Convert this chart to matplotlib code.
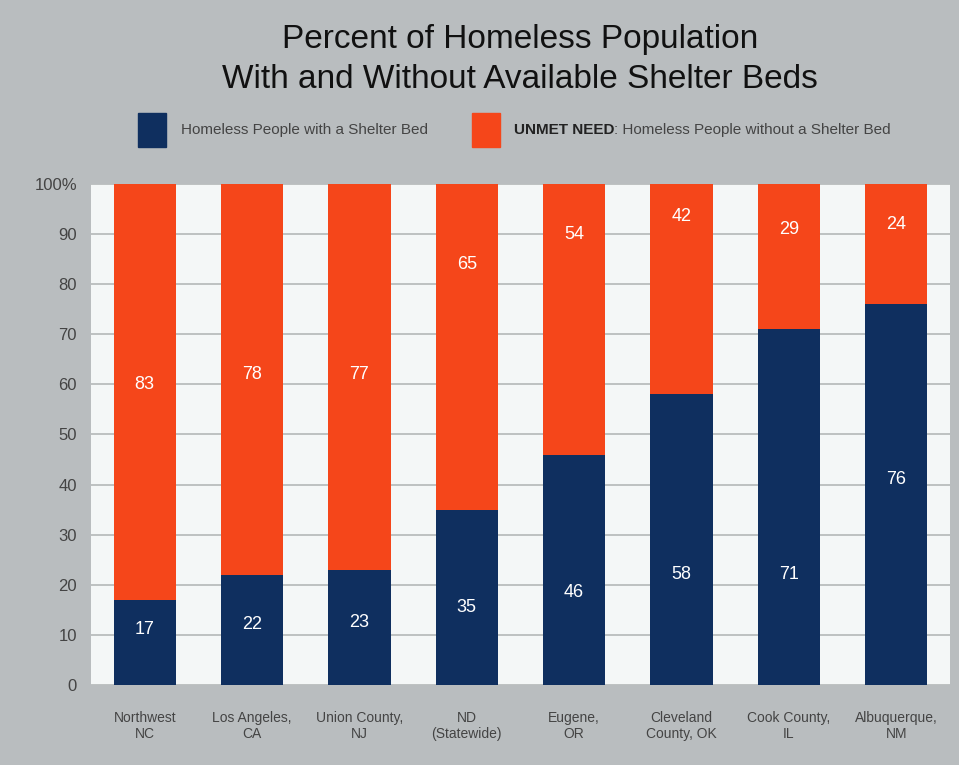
import matplotlib.pyplot as plt
from matplotlib.patches import Rectangle

plt.rcParams['font.family'] = ['Liberation Sans', 'DejaVu Sans']

# Dados
places = ["Northwest\nNC", "Los Angeles,\nCA", "Union County,\nNJ", "ND\n(Statewide)",
          "Eugene,\nOR", "Cleveland\nCounty, OK", "Cook County,\nIL", "Albuquerque,\nNM"]
with_bed = [17, 22, 23, 35, 46, 58, 71, 76]
without_bed = [83, 78, 77, 65, 54, 42, 29, 24]
y_ticks = [0, 10, 20, 30, 40, 50, 60, 70, 80, 90, 100]
y_tick_labels = ["0", "10", "20", "30", "40", "50", "60", "70", "80", "90", "100%"]

navy = "#0f2f5f"
orange = "#f5461a"
bg = "#b9bdbf"
panel = "#f4f7f7"
text_gray = "#444444"

fig = plt.figure(figsize=(9.59, 7.65), dpi=100, facecolor=bg)
ax = fig.add_axes([0.0949, 0.1046, 0.8957, 0.6549])
ax.set_facecolor(panel)

x = range(len(places))
ax.bar(x, with_bed, width=0.58, color=navy, zorder=3)
ax.bar(x, without_bed, width=0.58, bottom=with_bed, color=orange, zorder=3)

# posição dos rótulos dentro das barras (como no original)
blue_label_y = [11, 12, 12.5, 15.5, 18.5, 22, 22, 41]
red_label_y = [60, 62, 62, 84, 90, 93.5, 91, 92]
for i in x:
    ax.text(i, blue_label_y[i], str(with_bed[i]), color="white", fontsize=13,
            ha="center", va="center", zorder=4)
    ax.text(i, red_label_y[i], str(without_bed[i]), color="white", fontsize=13,
            ha="center", va="center", zorder=4)

ax.set_xlim(-0.5, len(places) - 0.5)
ax.set_ylim(0, 100)
ax.set_yticks(y_ticks)
ax.set_yticklabels(y_tick_labels, fontsize=12, color=text_gray)
ax.set_xticks(list(x))
ax.set_xticklabels(places, fontsize=10, color=text_gray, linespacing=1.15)
ax.tick_params(axis="both", length=0)
ax.tick_params(axis="x", pad=19)
ax.tick_params(axis="y", pad=10)
ax.yaxis.grid(True, color="#b4b8b8", linewidth=1.2, zorder=1)
for s in ax.spines.values():
    s.set_visible(False)

# Título
fig.text(0.542, 0.948, "Percent of Homeless Population", ha="center", va="center",
         fontsize=24, color="#111111")
fig.text(0.542, 0.896, "With and Without Available Shelter Beds", ha="center", va="center",
         fontsize=24, color="#111111")

# Legenda
fig.patches.append(Rectangle((138 / 959, 1 - 147 / 765), 28 / 959, 34 / 765,
                             transform=fig.transFigure, color=navy))
fig.patches.append(Rectangle((472 / 959, 1 - 147 / 765), 28 / 959, 34 / 765,
                             transform=fig.transFigure, color=orange))
fig.text(181 / 959, 1 - 130 / 765, "Homeless People with a Shelter Bed", ha="left",
         va="center", fontsize=11, color=text_gray)
t = fig.text(514 / 959, 1 - 130 / 765, "UNMET NEED", ha="left", va="center",
             fontsize=11, color="#222222", fontweight="bold")
fig.canvas.draw()
bb = t.get_window_extent()
fig.text(bb.x1 / 959, 1 - 130 / 765, ": Homeless People without a Shelter Bed", ha="left",
         va="center", fontsize=11, color=text_gray)

plt.savefig("out.png", dpi=100, facecolor=bg)
